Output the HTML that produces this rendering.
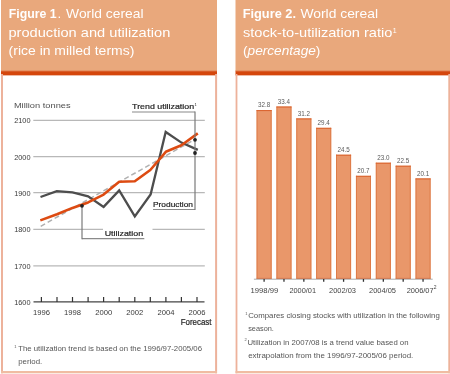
<!DOCTYPE html>
<html><head><meta charset="utf-8">
<style>
html,body{margin:0;padding:0;background:#fff;}
body{width:450px;height:374px;position:relative;overflow:hidden;font-family:"Liberation Sans",sans-serif;}
svg{position:absolute;left:0;top:0;filter:blur(0.3px);}
</style></head>
<body>
<svg width="450" height="374" viewBox="0 0 450 374" font-family="&quot;Liberation Sans&quot;, sans-serif">
  <!-- LEFT PANEL -->
  <rect x="1" y="0" width="216" height="71.5" fill="#E9A87C"/>
  <rect x="1" y="70.3" width="216" height="1" fill="#E38A5C"/><rect x="1" y="71.2" width="216" height="3.9" fill="#D4460C"/><rect x="1" y="75.1" width="216" height="0.9" fill="#EDB59C"/>
  <rect x="1" y="74" width="2" height="299.3" fill="#EDB29B"/>
  <rect x="215.1" y="74" width="2" height="299.3" fill="#EDB29B"/>
  <rect x="1" y="371" width="216" height="2.3" fill="#F0BCA2"/>
  <!-- RIGHT PANEL -->
  <rect x="235.5" y="0" width="214.5" height="71.5" fill="#E9A87C"/>
  <rect x="235.5" y="70.3" width="214.5" height="1" fill="#E38A5C"/><rect x="235.5" y="71.2" width="214.5" height="3.9" fill="#D4460C"/><rect x="235.5" y="75.1" width="214.5" height="0.9" fill="#EDB59C"/>
  <rect x="235.6" y="74" width="1.8" height="299.3" fill="#EDB29B"/>
  <rect x="448.3" y="74" width="1.8" height="299.3" fill="#EDB29B"/>
  <rect x="235.5" y="371" width="214.5" height="2.3" fill="#F0BCA2"/>

  <!-- titles -->
  <g fill="#fff" font-size="13.6">
    <text x="8.8" y="18" textLength="47.9" lengthAdjust="spacingAndGlyphs" font-weight="bold">Figure 1</text>
    <text x="57.6" y="18">.</text>
    <text x="66.1" y="18" textLength="77.4" lengthAdjust="spacingAndGlyphs">World cereal</text>
    <text x="8.4" y="36.6" textLength="161.9" lengthAdjust="spacingAndGlyphs">production and utilization</text>
    <text x="8.6" y="55.2" textLength="125.7" lengthAdjust="spacingAndGlyphs">(rice in milled terms)</text>
    <text x="242.7" y="18" textLength="53.3" lengthAdjust="spacingAndGlyphs" font-weight="bold">Figure 2.</text>
    <text x="300.4" y="18" textLength="77.6" lengthAdjust="spacingAndGlyphs">World cereal</text>
    <text x="243.0" y="36.6" textLength="149.4" lengthAdjust="spacingAndGlyphs">stock-to-utilization ratio</text>
    <text x="392.8" y="32.6" font-size="7">1</text>
    <text x="243.0" y="55.2" textLength="77.4" lengthAdjust="spacingAndGlyphs">(<tspan font-style="italic">percentage</tspan>)</text>
  </g>

  <!-- LEFT CHART -->
  <g stroke="#b8b8b8" stroke-width="1.2">
    <line x1="33.3" y1="120.4" x2="204.8" y2="120.4"/>
    <line x1="33.3" y1="156.6" x2="204.8" y2="156.6"/>
    <line x1="33.3" y1="192.6" x2="204.8" y2="192.6"/>
    <line x1="33.3" y1="229.3" x2="103" y2="229.3"/>
    <line x1="152.5" y1="229.3" x2="204.8" y2="229.3"/>
    <line x1="33.3" y1="265.9" x2="204.8" y2="265.9"/>
  </g>
  <line x1="33.5" y1="301.8" x2="204.5" y2="301.8" stroke="#444" stroke-width="1.3"/>
  <g stroke="#333" stroke-width="1.2">
    <line x1="41.4" y1="297" x2="41.4" y2="302"/>
    <line x1="57.0" y1="297" x2="57.0" y2="302"/>
    <line x1="72.5" y1="297" x2="72.5" y2="302"/>
    <line x1="88.1" y1="297" x2="88.1" y2="302"/>
    <line x1="103.6" y1="297" x2="103.6" y2="302"/>
    <line x1="119.2" y1="297" x2="119.2" y2="302"/>
    <line x1="134.8" y1="297" x2="134.8" y2="302"/>
    <line x1="150.3" y1="297" x2="150.3" y2="302"/>
    <line x1="165.9" y1="297" x2="165.9" y2="302"/>
    <line x1="181.4" y1="297" x2="181.4" y2="302"/>
    <line x1="197.0" y1="297" x2="197.0" y2="302"/>
  </g>
  <!-- trend dashed -->
  <line x1="40.7" y1="226.3" x2="195" y2="139.3" stroke="#b0b0b0" stroke-width="1.5" stroke-dasharray="5,3"/>
  <!-- production gray -->
  <polyline fill="none" stroke="#4d4d4d" stroke-width="2.3" stroke-linejoin="miter"
    points="40.5,197 56.8,191.2 72.5,192.4 88.1,196.4 103.6,206.9 119.2,190.5 134.8,216.4 150.6,194.4 165.7,132 181.4,142.6 197.8,149.9"/>
  <!-- utilization orange -->
  <polyline fill="none" stroke="#DD4B12" stroke-width="2.6" stroke-linejoin="round"
    points="40.3,220.4 57,214.3 72.5,207.9 88.1,202.4 103.6,194.6 119.2,181.7 134.8,181.3 150.3,170 165.8,151.8 181.4,145.3 197.8,133.4"/>
  <!-- connectors -->
  <g fill="none" stroke="#8a8a8a" stroke-width="1.2">
    <line x1="132" y1="112" x2="195" y2="112"/>
    <line x1="195" y1="209.5" x2="153" y2="209.5"/>
    <line x1="82" y1="238.6" x2="144.3" y2="238.6"/>
  </g>
  <g fill="none" stroke="#7a7a7a" stroke-width="1.2">
    <line x1="195" y1="111.4" x2="195" y2="210.1"/>
    <line x1="82" y1="206" x2="82" y2="239.2"/>
  </g>
  <g fill="#222">
    <circle cx="195" cy="139.8" r="1.9"/>
    <circle cx="195" cy="153" r="1.9"/>
    <circle cx="82" cy="205.8" r="1.9"/>
  </g>
  <g fill="#222" font-size="8" stroke="#222" stroke-width="0.2">
    <text x="13.9" y="107.8" textLength="56.7" lengthAdjust="spacingAndGlyphs" stroke-width="0" fill="#505050">Million tonnes</text>
    <text x="132.1" y="108.9" textLength="62" lengthAdjust="spacingAndGlyphs">Trend utilization</text>
    <text x="194.6" y="105.5" font-size="4" stroke-width="0">1</text>
    <text x="104.7" y="236.4" textLength="38.5" lengthAdjust="spacingAndGlyphs">Utilization</text>
    <text x="153" y="207.2" textLength="40" lengthAdjust="spacingAndGlyphs">Production</text>
    <text x="14.2" y="123.3" textLength="16.3" lengthAdjust="spacingAndGlyphs" stroke-width="0" fill="#3a3a3a">2100</text>
    <text x="14.2" y="159.5" textLength="16.3" lengthAdjust="spacingAndGlyphs" stroke-width="0" fill="#3a3a3a">2000</text>
    <text x="14.2" y="195.5" textLength="16.3" lengthAdjust="spacingAndGlyphs" stroke-width="0" fill="#3a3a3a">1900</text>
    <text x="14.2" y="232.2" textLength="16.3" lengthAdjust="spacingAndGlyphs" stroke-width="0" fill="#3a3a3a">1800</text>
    <text x="14.2" y="268.8" textLength="16.3" lengthAdjust="spacingAndGlyphs" stroke-width="0" fill="#3a3a3a">1700</text>
    <text x="14.2" y="304.7" textLength="16.3" lengthAdjust="spacingAndGlyphs" stroke-width="0" fill="#3a3a3a">1600</text>
    <text x="33" y="315" textLength="17" lengthAdjust="spacingAndGlyphs" stroke-width="0" fill="#3a3a3a">1996</text>
    <text x="64.1" y="315" textLength="17" lengthAdjust="spacingAndGlyphs" stroke-width="0" fill="#3a3a3a">1998</text>
    <text x="95.2" y="315" textLength="17" lengthAdjust="spacingAndGlyphs" stroke-width="0" fill="#3a3a3a">2000</text>
    <text x="126.3" y="315" textLength="17" lengthAdjust="spacingAndGlyphs" stroke-width="0" fill="#3a3a3a">2002</text>
    <text x="157.4" y="315" textLength="17" lengthAdjust="spacingAndGlyphs" stroke-width="0" fill="#3a3a3a">2004</text>
    <text x="188.5" y="315" textLength="17" lengthAdjust="spacingAndGlyphs" stroke-width="0" fill="#3a3a3a">2006</text>
    <text x="180.7" y="324.7" font-size="8.8" textLength="30.8" lengthAdjust="spacingAndGlyphs" stroke-width="0.2">Forecast</text>
  </g>
  <g fill="#555" font-size="8">
    <text x="14.3" y="347.5" font-size="4">1</text>
    <text x="18.2" y="351" textLength="183.8" lengthAdjust="spacingAndGlyphs">The utilization trend is based on the 1996/97-2005/06</text>
    <text x="18.2" y="363.8" textLength="24" lengthAdjust="spacingAndGlyphs">period.</text>
  </g>

  <!-- RIGHT CHART -->
  <g>
  <rect x="256.60" y="110" width="15" height="168.9" fill="#E9976A"/>
  <rect x="256.60" y="110" width="0.9" height="168.9" fill="#DD7844"/>
  <rect x="270.70" y="110" width="0.9" height="168.9" fill="#DD7844"/>
  <rect x="256.60" y="110" width="15" height="1.1" fill="#DB6632"/>
  <rect x="256.60" y="277.9" width="15" height="1" fill="#DB6632"/>
  <rect x="276.47" y="106.5" width="15" height="172.4" fill="#E9976A"/>
  <rect x="276.47" y="106.5" width="0.9" height="172.4" fill="#DD7844"/>
  <rect x="290.57" y="106.5" width="0.9" height="172.4" fill="#DD7844"/>
  <rect x="276.47" y="106.5" width="15" height="1.1" fill="#DB6632"/>
  <rect x="276.47" y="277.9" width="15" height="1" fill="#DB6632"/>
  <rect x="296.34" y="118.4" width="15" height="160.5" fill="#E9976A"/>
  <rect x="296.34" y="118.4" width="0.9" height="160.5" fill="#DD7844"/>
  <rect x="310.44" y="118.4" width="0.9" height="160.5" fill="#DD7844"/>
  <rect x="296.34" y="118.4" width="15" height="1.1" fill="#DB6632"/>
  <rect x="296.34" y="277.9" width="15" height="1" fill="#DB6632"/>
  <rect x="316.21" y="127.8" width="15" height="151.1" fill="#E9976A"/>
  <rect x="316.21" y="127.8" width="0.9" height="151.1" fill="#DD7844"/>
  <rect x="330.31" y="127.8" width="0.9" height="151.1" fill="#DD7844"/>
  <rect x="316.21" y="127.8" width="15" height="1.1" fill="#DB6632"/>
  <rect x="316.21" y="277.9" width="15" height="1" fill="#DB6632"/>
  <rect x="336.08" y="154.7" width="15" height="124.2" fill="#E9976A"/>
  <rect x="336.08" y="154.7" width="0.9" height="124.2" fill="#DD7844"/>
  <rect x="350.18" y="154.7" width="0.9" height="124.2" fill="#DD7844"/>
  <rect x="336.08" y="154.7" width="15" height="1.1" fill="#DB6632"/>
  <rect x="336.08" y="277.9" width="15" height="1" fill="#DB6632"/>
  <rect x="355.95" y="175.8" width="15" height="103.1" fill="#E9976A"/>
  <rect x="355.95" y="175.8" width="0.9" height="103.1" fill="#DD7844"/>
  <rect x="370.05" y="175.8" width="0.9" height="103.1" fill="#DD7844"/>
  <rect x="355.95" y="175.8" width="15" height="1.1" fill="#DB6632"/>
  <rect x="355.95" y="277.9" width="15" height="1" fill="#DB6632"/>
  <rect x="375.82" y="162.7" width="15" height="116.2" fill="#E9976A"/>
  <rect x="375.82" y="162.7" width="0.9" height="116.2" fill="#DD7844"/>
  <rect x="389.92" y="162.7" width="0.9" height="116.2" fill="#DD7844"/>
  <rect x="375.82" y="162.7" width="15" height="1.1" fill="#DB6632"/>
  <rect x="375.82" y="277.9" width="15" height="1" fill="#DB6632"/>
  <rect x="395.69" y="165.7" width="15" height="113.2" fill="#E9976A"/>
  <rect x="395.69" y="165.7" width="0.9" height="113.2" fill="#DD7844"/>
  <rect x="409.79" y="165.7" width="0.9" height="113.2" fill="#DD7844"/>
  <rect x="395.69" y="165.7" width="15" height="1.1" fill="#DB6632"/>
  <rect x="395.69" y="277.9" width="15" height="1" fill="#DB6632"/>
  <rect x="415.56" y="178.4" width="15" height="100.5" fill="#E9976A"/>
  <rect x="415.56" y="178.4" width="0.9" height="100.5" fill="#DD7844"/>
  <rect x="429.66" y="178.4" width="0.9" height="100.5" fill="#DD7844"/>
  <rect x="415.56" y="178.4" width="15" height="1.1" fill="#DB6632"/>
  <rect x="415.56" y="277.9" width="15" height="1" fill="#DB6632"/>
  </g>
  <line x1="253.9" y1="279.2" x2="432.7" y2="279.2" stroke="#aaa" stroke-width="1"/>
  <g stroke="#333" stroke-width="1.3">
    <line x1="264.10" y1="279" x2="264.10" y2="281.8"/>
    <line x1="283.97" y1="279" x2="283.97" y2="281.8"/>
    <line x1="303.84" y1="279" x2="303.84" y2="281.8"/>
    <line x1="323.71" y1="279" x2="323.71" y2="281.8"/>
    <line x1="343.58" y1="279" x2="343.58" y2="281.8"/>
    <line x1="363.45" y1="279" x2="363.45" y2="281.8"/>
    <line x1="383.32" y1="279" x2="383.32" y2="281.8"/>
    <line x1="403.19" y1="279" x2="403.19" y2="281.8"/>
    <line x1="423.06" y1="279" x2="423.06" y2="281.8"/>
    </g>
  <g fill="#5a5a5a" font-size="6.8">
    <text x="258.00" y="107.4" textLength="12.2" lengthAdjust="spacingAndGlyphs">32.8</text>
    <text x="277.87" y="103.9" textLength="12.2" lengthAdjust="spacingAndGlyphs">33.4</text>
    <text x="297.74" y="115.8" textLength="12.2" lengthAdjust="spacingAndGlyphs">31.2</text>
    <text x="317.61" y="125.2" textLength="12.2" lengthAdjust="spacingAndGlyphs">29.4</text>
    <text x="337.48" y="152.1" textLength="12.2" lengthAdjust="spacingAndGlyphs">24.5</text>
    <text x="357.35" y="173.2" textLength="12.2" lengthAdjust="spacingAndGlyphs">20.7</text>
    <text x="377.22" y="160.1" textLength="12.2" lengthAdjust="spacingAndGlyphs">23.0</text>
    <text x="397.09" y="163.1" textLength="12.2" lengthAdjust="spacingAndGlyphs">22.5</text>
    <text x="416.96" y="175.8" textLength="12.2" lengthAdjust="spacingAndGlyphs">20.1</text>
    </g>
  <g fill="#444" font-size="7.5">
    <text x="250.6" y="292.8" textLength="27.7" lengthAdjust="spacingAndGlyphs">1998/99</text>
    <text x="289.4" y="292.8" textLength="26.7" lengthAdjust="spacingAndGlyphs">2000/01</text>
    <text x="329" y="292.8" textLength="27" lengthAdjust="spacingAndGlyphs">2002/03</text>
    <text x="369" y="292.8" textLength="27" lengthAdjust="spacingAndGlyphs">2004/05</text>
    <text x="406.7" y="293.3" textLength="27" lengthAdjust="spacingAndGlyphs">2006/07</text>
    <text x="433.8" y="289" font-size="5">2</text>
  </g>
  <g fill="#555" font-size="8">
    <text x="245.2" y="315" font-size="4">1</text>
    <text x="248.2" y="318.4" textLength="191.6" lengthAdjust="spacingAndGlyphs">Compares closing stocks with utilization in the following</text>
    <text x="248.2" y="331.2" textLength="25.7" lengthAdjust="spacingAndGlyphs">season.</text>
    <text x="244.6" y="341.3" font-size="4">2</text>
    <text x="247.5" y="344.6" textLength="161" lengthAdjust="spacingAndGlyphs">Utilization in 2007/08 is a trend value based on</text>
    <text x="248.2" y="357.6" textLength="165.1" lengthAdjust="spacingAndGlyphs">extrapolation from the 1996/97-2005/06 period.</text>
  </g>
</svg>
</body></html>
